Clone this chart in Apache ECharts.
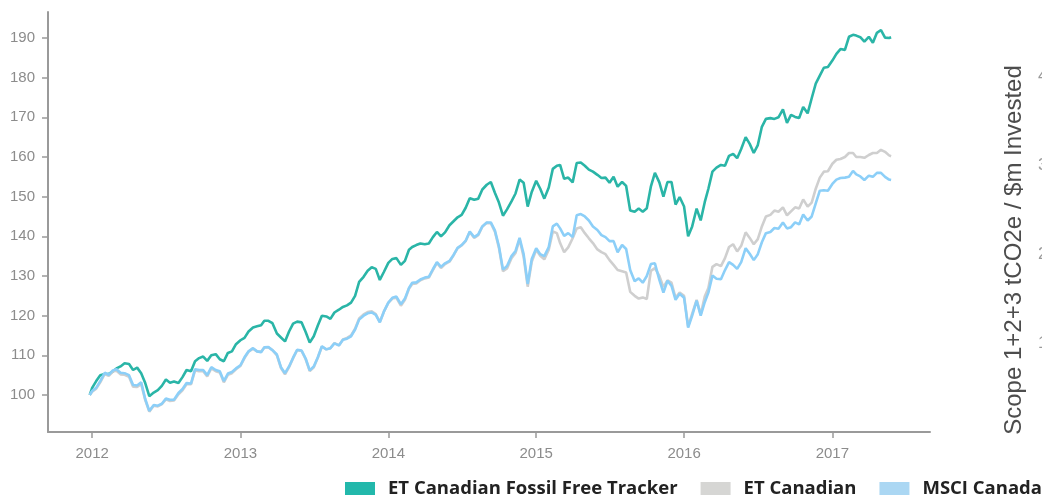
<!DOCTYPE html>
<html>
<head>
<meta charset="utf-8">
<script src="https://cdn.jsdelivr.net/npm/echarts@6/dist/echarts.min.js"></script>
<style>
html,body{margin:0;padding:0;background:#fff}
#chart{width:1042px;height:497px}
</style>
</head>
<body>
<div id="chart"></div>
<script>
// sampling: 1st, 11th, 21st of each month, Jan 2012 - May 2017
var sampleDays = [1, 11, 21];
var dates = ['2011-12-26'];
for (var y = 2012; y <= 2017; y++) {
	for (var m = 1; m <= 12; m++) {
		if (y === 2017 && m > 5) break;
		sampleDays.forEach(function (d) {
			dates.push(y + '-' + (m < 10 ? '0' + m : m) + '-' + (d < 10 ? '0' + d : d));
		});
	}
}
dates.push('2017-05-26');

var fossilFree = [100,
	101.8, 103.5, 105, 105.3, 105.3, 105.9, 106.7, 107.2, 108, 107.8, 106.3, 106.9, 105.5, 103, 99.7, 100.6, 101.2, 102.3,
	103.9, 103.1, 103.4, 103, 104.5, 106.3, 106, 108.5, 109.3, 109.7, 108.6, 110, 110.3, 109, 108.5, 110.6, 111, 112.8,
	113.8, 114.4, 116, 117, 117.3, 117.6, 118.7, 118.7, 118.1, 115.5, 114.5, 113.5, 116, 118, 118.5, 118.3, 115.9, 113.2,
	114.8, 117.5, 120, 119.8, 119.2, 120.8, 121.5, 122.2, 122.6, 123.3, 125, 128.5, 129.8, 131.3, 132.2, 131.8, 129, 131,
	133.3, 134.3, 134.5, 132.8, 133.8, 136.6, 137.3, 137.8, 138.2, 138, 138.2, 139.8, 141.1, 140, 141, 142.8, 143.8, 144.8,
	145.4, 147.2, 149.6, 149.2, 149.5, 151.8, 153, 153.7, 151, 148.5, 145.2, 146.8, 148.8, 150.8, 154.3, 153.5, 147.5, 151.2,
	154, 152, 149.5, 152.3, 157, 157.8, 158, 154.5, 154.8, 153.6, 158.5, 158.6, 157.8, 156.8, 156.3, 155.5, 154.7, 154.8,
	153.5, 155, 152.5, 153.7, 152.7, 146.5, 146.2, 147, 146.2, 147.1, 152.5, 156, 153.6, 150, 153.7, 153.7, 148, 149.9,
	147.5, 140, 142.5, 147, 144, 148.6, 152, 156.3, 157.3, 158, 157.8, 160.3, 160.8, 159.7, 162, 165, 163.3, 161,
	163, 167.6, 169.6, 169.8, 169.6, 170, 172, 168.6, 170.6, 170.1, 169.8, 172.6, 171, 174.8, 178.5, 180.5, 182.5, 182.7,
	184.3, 186, 187.2, 187, 190.3, 190.8, 190.6, 190.2, 189.1, 190.3, 188.8, 191.3, 192, 190.1, 190,
	190.2];

var etCanadian = [100,
	100.8, 101.6, 103.2, 105.3, 104.8, 105.9, 106.1, 105.2, 105.1, 104.6, 102.1, 102, 102.8, 98.7, 95.8, 97.3, 97.1, 97.7,
	98.9, 98.5, 98.6, 100.2, 101.2, 102.7, 102.7, 106.2, 106, 106, 104.7, 106.7, 106, 105.7, 103.2, 105.1, 105.5, 106.5,
	107.3, 109.3, 110.9, 111.7, 111, 110.9, 112, 112, 111.3, 110, 106.8, 105.2, 107, 109.3, 111.3, 111.1, 109, 106,
	107, 109.4, 112.2, 111.5, 111.8, 113.1, 112.5, 114, 114.4, 115, 116.7, 119.3, 120.3, 120.9, 121.1, 120.4, 118.4, 121,
	123.2, 124.3, 124.5, 122.5, 124, 126.8, 128, 128.1, 128.9, 129.4, 129.6, 131.5, 133.3, 132, 133, 133.6, 135.2, 137,
	137.7, 138.8, 141.1, 139.6, 140.3, 142.4, 143.4, 143.3, 141.2, 137.1, 131.2, 131.9, 134.5, 135.8, 139.2, 134.8, 127.3, 133.6,
	136.6, 135.1, 134.2, 136.6, 141.2, 140.8, 138.3, 136, 137.2, 139.5, 142, 142.3, 140.8, 139.5, 138.3, 136.7, 136, 135.5,
	134, 132.8, 131.5, 131.2, 130.9, 126, 125, 124.3, 124.6, 124.2, 131.3, 132, 130, 127.2, 128.9, 128.3, 124.5, 125.8,
	125, 117.3, 120.5, 124, 120.3, 124.8, 127, 132.3, 133, 132.5, 134.5, 137.3, 138, 136.2, 137.6, 141, 139.6, 138,
	139.3, 142.5, 145, 145.4, 146.5, 146.2, 147.3, 145.3, 146.3, 147.3, 147, 149.3, 147.5, 148.5, 152, 154.8, 156.3, 156.4,
	158.3, 159.3, 159.5, 160, 161, 161, 160, 160, 159.8, 160.5, 161, 161, 161.8, 161.3, 160.4,
	160.2];

var msciCanada = [100,
	101, 101.8, 103.5, 105.6, 105.1, 106.2, 106.5, 105.6, 105.5, 105, 102.5, 102.4, 103.2, 99, 96, 97.5, 97.3, 97.8,
	99.1, 98.8, 98.8, 100.5, 101.5, 103, 102.9, 106.5, 106.3, 106.3, 105, 107, 106.3, 106, 103.5, 105.4, 105.8, 106.7,
	107.5, 109.5, 111, 111.8, 111, 110.8, 112, 112.1, 111.3, 110.2, 107, 105.5, 107.2, 109.4, 111.4, 111.2, 109.2, 106.2,
	107.2, 109.5, 112.3, 111.5, 111.8, 113, 112.5, 113.9, 114.2, 114.8, 116.5, 119, 120, 120.6, 120.8, 120.2, 118.3, 121,
	123.3, 124.5, 124.8, 122.9, 124.3, 127, 128.3, 128.4, 129.1, 129.6, 129.8, 131.7, 133.5, 132.3, 133.2, 133.8, 135.3, 137.1,
	137.8, 138.9, 141.2, 139.8, 140.5, 142.5, 143.5, 143.5, 141.5, 137.5, 131.6, 132.5, 135, 136.3, 139.6, 135.5, 128, 134.3,
	137, 135.5, 135, 137.3, 142.5, 143.2, 142, 140.1, 140.8, 139.8, 145.3, 145.6, 145, 144, 142.5, 141.6, 140.3, 139.8,
	138.8, 138.8, 136, 137.8, 136.8, 131.5, 128.7, 129.4, 128.3, 130, 133, 133.2, 129, 125.8, 128.8, 127.5, 124, 125.5,
	124.5, 117, 120, 123.8, 120, 123.4, 125.8, 130.1, 129.3, 129.2, 131.5, 133.5, 132.8, 131.8, 133.5, 137, 135.6, 134,
	135.5, 138.5, 140.8, 141.1, 142.1, 141.9, 143.5, 142, 142.3, 143.5, 143, 145.5, 144, 145, 148.3, 151.5, 151.6, 151.5,
	153.2, 154.3, 154.7, 154.8, 155, 156.5, 155.6, 155.1, 154.2, 155.3, 155, 156, 156, 155, 154.3,
	154.2];

var seriesNames = ['ET Canadian Fossil Free Tracker', 'ET Canadian', 'MSCI Canada'];
var lineColors = ['#2ab5a7', '#cfcfcf', '#8ccff8'];
var legendColors = ['#22b8ab', '#d6d6d4', '#abd7f3'];
var yTicks = [100, 110, 120, 130, 140, 150, 160, 170, 180, 190];
var xTickYears = [2012, 2013, 2014, 2015, 2016, 2017];
var rightTicks = [1, 2, 3, 4];
var rightTitle = 'Scope 1+2+3 tCO2e / $m Invested';

function toTime(s){
	var p = s.split('-');
	return new Date(+p[0], +p[1] - 1, +p[2]).getTime();
}
function pairs(vals){
	return dates.map(function (d, i) { return [toTime(d), vals[i]]; });
}
var xTickTimes = xTickYears.map(function (y) { return new Date(y, 0, 1).getTime(); });

var chart = echarts.init(document.getElementById('chart'));
chart.setOption({
	animation: false,
	backgroundColor: '#fff',
	grid: { left: 48, right: 112, top: 12, bottom: 65, containLabel: false, outerBoundsMode: 'none' },
	legend: {
		left: 345, top: 479, width: 1300, padding: 0,
		itemWidth: 30, itemHeight: 13, itemGap: 23,
		icon: 'rect',
		textStyle: { fontFamily: 'Open Sans', fontWeight: 'bold', fontSize: 18.5, color: '#222', padding: [0, 0, 0, 8] },
		data: seriesNames.map(function (n, i) { return { name: n, itemStyle: { color: legendColors[i] } }; })
	},
	xAxis: {
		type: 'value',
		min: toTime('2011-09-14'), max: toTime('2017-08-30'),
		axisLine: { lineStyle: { color: '#9a9a9a', width: 2 } },
		axisTick: { length: 6, lineStyle: { color: '#9a9a9a', width: 1.5 }, customValues: xTickTimes },
		axisLabel: {
			customValues: xTickTimes,
			color: '#8c8c8c', fontSize: 15, fontFamily: 'Liberation Sans', margin: 14,
			formatter: function (v) { return String(new Date(v).getFullYear()); }
		},
		splitLine: { show: false }
	},
	yAxis: [{
		type: 'value',
		min: 90.67, max: 196.55,
		axisLine: { show: true, lineStyle: { color: '#9a9a9a', width: 2 } },
		axisTick: { show: true, length: 6, lineStyle: { color: '#9a9a9a', width: 1.5 }, customValues: yTicks },
		axisLabel: { customValues: yTicks, color: '#8c8c8c', fontSize: 15, fontFamily: 'Liberation Sans', margin: 13 },
		splitLine: { show: false }
	}, {
		type: 'value',
		position: 'right', offset: 100,
		min: 0, max: 4.72,
		axisLine: { show: false },
		axisTick: { show: false },
		axisLabel: { customValues: rightTicks, color: '#9a9a9a', fontSize: 17, fontFamily: 'Liberation Sans', margin: 8 },
		splitLine: { show: false }
	}],
	graphic: [{
		type: 'text',
		x: 1014, y: 250,
		rotation: Math.PI / 2,
		style: {
			text: rightTitle,
			fill: '#4d4d4d',
			fontSize: 24,
			fontFamily: 'Liberation Sans',
			align: 'center',
			verticalAlign: 'middle'
		}
	}],
	series: [fossilFree, etCanadian, msciCanada].map(function (vals, i) {
		return {
			name: seriesNames[i],
			type: 'line',
			data: pairs(vals),
			showSymbol: false,
			symbol: 'none',
			itemStyle: { color: lineColors[i] },
			lineStyle: { color: lineColors[i], width: 2.6 }
		};
	})
});
</script>
</body>
</html>
